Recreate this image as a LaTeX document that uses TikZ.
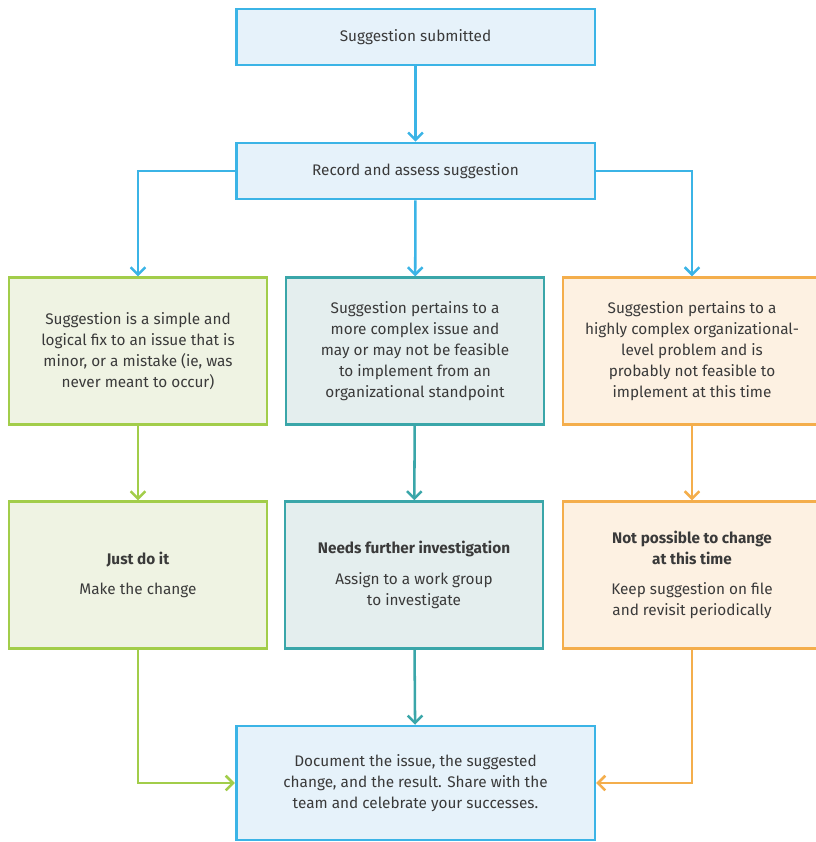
\documentclass[tikz,border=0pt]{standalone}
\usepackage{fontspec}
\setmainfont{Fira Sans}
\usetikzlibrary{arrows.meta}
\definecolor{skyline}{HTML}{3BB4E6}
\definecolor{skyfill}{HTML}{E6F2FA}
\definecolor{leafline}{HTML}{A2CD4A}
\definecolor{leaffill}{HTML}{EFF3E3}
\definecolor{tealline}{HTML}{3AA6A9}
\definecolor{tealfill}{HTML}{E4EEEE}
\definecolor{amberline}{HTML}{F4AE4C}
\definecolor{amberfill}{HTML}{FDF1E2}
\definecolor{inkgray}{HTML}{3A3A3A}
\begin{document}
\begin{tikzpicture}[x=0.75pt,y=-0.75pt,
    box/.style={draw, line width=2pt, align=center, text=inkgray,
        font=\fontsize{11.5}{15.75}\selectfont, inner sep=0pt},
    wide/.style={box, draw=skyline, fill=skyfill, minimum width=269pt, minimum height=42pt},
    tall/.style={box, minimum width=193.5pt, minimum height=110pt},
    flow/.style={line width=1.9pt, -{Straight Barb[length=5.5pt,width=11pt,line width=1.9pt]}}]
\useasboundingbox (0,0) rectangle (816,842);

\node[wide] (sub) at (415.5,37) {Suggestion submitted};
\node[wide] (rec) at (415.5,171) {Record and assess suggestion};

\node[tall, draw=leafline, fill=leaffill] (simple) at (138,351)
    {Suggestion is a simple and\\logical fix to an issue that is\\minor, or a mistake (ie, was\\never meant to occur)};
\node[tall, draw=tealline, fill=tealfill] (complex) at (415,351)
    {Suggestion pertains to a\\more complex issue and\\may or may not be feasible\\to implement from an\\organizational standpoint};
\node[tall, draw=amberline, fill=amberfill] (hard) at (692,351)
    {Suggestion pertains to a\\highly complex organizational-\\level problem and is\\probably not feasible to\\implement at this time};

\node[tall, draw=leafline, fill=leaffill] (just) at (138,575)
    {\textbf{Just do it}\\[7pt]Make the change};
\node[tall, draw=tealline, fill=tealfill] (probe) at (414,575)
    {\textbf{Needs further investigation}\\[7pt]Assign to a work group\\to investigate};
\node[tall, draw=amberline, fill=amberfill] (hold) at (692,575)
    {\textbf{Not possible to change}\\\textbf{at this time}\\[7pt]Keep suggestion on file\\and revisit periodically};

\node[wide, minimum height=85.5pt] (doc) at (415.5,783)
    {Document the issue, the suggested\\change, and the result. Share with the\\team and celebrate your successes.};

\draw[flow, skyline] (sub) -- (rec);
\draw[flow, skyline] (rec.west) -| (simple.north);
\draw[flow, skyline] (rec) -- (complex);
\draw[flow, skyline] (rec.east) -| (hard.north);
\draw[flow, leafline] (simple) -- (just);
\draw[flow, tealline] (complex) -- (probe);
\draw[flow, amberline] (hard) -- (hold);
\draw[flow, leafline] (just.south) |- (doc.west);
\draw[flow, tealline] (probe) -- (doc);
\draw[flow, amberline] (hold.south) |- (doc.east);
\end{tikzpicture}
\end{document}
